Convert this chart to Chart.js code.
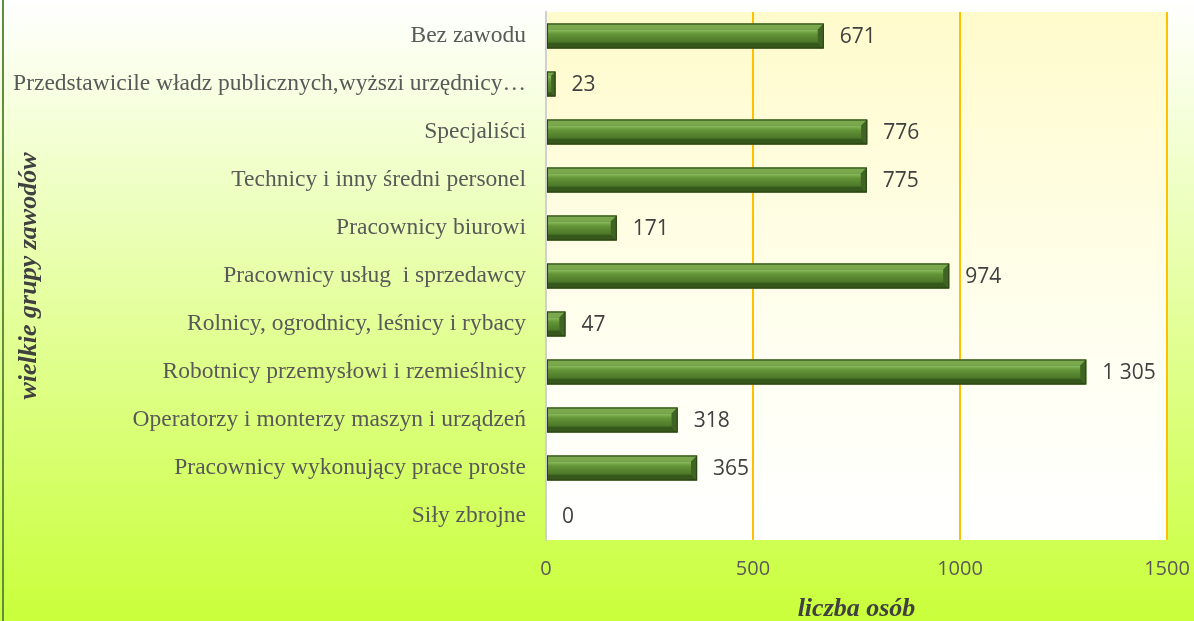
<!DOCTYPE html>
<html>
<head>
<meta charset="utf-8">
<script src="https://cdn.jsdelivr.net/npm/chart.js@4.4.1/dist/chart.umd.min.js"></script>
<style>
  html, body { margin: 0; padding: 0; background: #fff; }
  canvas { display: block; }
</style>
</head>
<body>
<canvas id="chart" width="1194" height="621"></canvas>
<script>
// dane z wykresu
const categories = [
    'Bez zawodu',
    'Przedstawicile władz publicznych,wyższi urzędnicy…',
    'Specjaliści',
    'Technicy i inny średni personel',
    'Pracownicy biurowi',
    'Pracownicy usług  i sprzedawcy',
    'Rolnicy, ogrodnicy, leśnicy i rybacy',
    'Robotnicy przemysłowi i rzemieślnicy',
    'Operatorzy i monterzy maszyn i urządzeń',
    'Pracownicy wykonujący prace proste',
    'Siły zbrojne'
];
const persons = [671, 23, 776, 775, 171, 974, 47, 1305, 318, 365, 0];
const xTicks = [0, 500, 1000, 1500];

const fmt = v => String(v).replace(/\B(?=(\d{3})+(?!\d))/g, ' ');

// tlo calego wykresu i obszaru kreslenia
const backgroundPlugin = {
    id: 'bg',
    beforeDraw: (chart) => {
        const { ctx, width, height, chartArea: a } = chart;
        ctx.save();
        let g = ctx.createLinearGradient(0, 0, 0, height);
        g.addColorStop(0, '#ffffff');
        g.addColorStop(1, '#c9ff3a');
        ctx.fillStyle = g;
        ctx.fillRect(0, 0, width, height);
        ctx.fillStyle = '#5e8f3c';
        ctx.fillRect(2, 0, 2, height);

        g = ctx.createLinearGradient(0, a.top, 0, a.bottom);
        g.addColorStop(0, '#fffbcc');
        g.addColorStop(0.7, '#fffff4');
        g.addColorStop(1, '#ffffff');
        ctx.fillStyle = g;
        ctx.fillRect(a.left, a.top, a.right - a.left, a.bottom - a.top);
        ctx.restore();
    }
};

// efekt fazowania slupkow + etykiety danych
const bevelPlugin = {
    id: 'bevel',
    afterDatasetsDraw: (chart) => {
        const ctx = chart.ctx;
        const meta = chart.getDatasetMeta(0);
        ctx.save();
        meta.data.forEach((bar, i) => {
            const L = Math.min(bar.base, bar.x), R = Math.max(bar.base, bar.x);
            const T = bar.y - bar.height / 2, B = bar.y + bar.height / 2;
            const w = R - L;
            if (w > 1) {
                const b = Math.min(6, w / 2);
                // lico
                const fg = ctx.createLinearGradient(0, T + b, 0, B - b);
                fg.addColorStop(0, '#8cbd5f');
                fg.addColorStop(0.35, '#639437');
                fg.addColorStop(1, '#4b7728');
                ctx.fillStyle = fg;
                ctx.fillRect(L, T + b, w - b, B - T - 2 * b);
                // gorna faza
                ctx.fillStyle = '#79a84d';
                ctx.beginPath();
                ctx.moveTo(L, T); ctx.lineTo(R, T); ctx.lineTo(R - b, T + b); ctx.lineTo(L, T + b);
                ctx.closePath(); ctx.fill();
                // dolna faza
                ctx.fillStyle = '#37581d';
                ctx.beginPath();
                ctx.moveTo(L, B); ctx.lineTo(R, B); ctx.lineTo(R - b, B - b); ctx.lineTo(L, B - b);
                ctx.closePath(); ctx.fill();
                // prawa faza
                ctx.fillStyle = '#3f6423';
                ctx.beginPath();
                ctx.moveTo(R, T); ctx.lineTo(R, B); ctx.lineTo(R - b, B - b); ctx.lineTo(R - b, T + b);
                ctx.closePath(); ctx.fill();
                ctx.strokeStyle = '#2a4214';
                ctx.lineWidth = 1;
                ctx.strokeRect(L + 0.5, T + 0.5, w - 1, B - T - 1);
            }
            ctx.fillStyle = '#404040';
            ctx.font = '21px "Open Sans"';
            ctx.textAlign = 'left';
            ctx.textBaseline = 'middle';
            ctx.fillText(fmt(persons[i]), R + 16, bar.y + 1);
        });
        ctx.restore();
    }
};

new Chart(document.getElementById('chart'), {
    type: 'bar',
    data: {
        labels: categories,
        datasets: [{
            data: persons,
            backgroundColor: '#55842f',
            borderWidth: 0,
            categoryPercentage: 1,
            barPercentage: 0.52
        }]
    },
    options: {
        indexAxis: 'y',
        responsive: false,
        animation: false,
        devicePixelRatio: 1,
        layout: { padding: { left: 5, right: 27, top: 12, bottom: 0 } },
        plugins: { legend: { display: false }, tooltip: { enabled: false } },
        scales: {
            x: {
                min: 0, max: 1500,
                afterBuildTicks: s => { s.ticks = xTicks.map(v => ({ value: v })); },
                afterFit: s => { s.height = 81; s.paddingLeft = 0; s.paddingRight = 0; },
                grid: {
                    color: c => c.tick && c.tick.value === 0 ? 'rgba(0,0,0,0)' : '#ffc000',
                    lineWidth: 2,
                    drawTicks: false
                },
                border: { display: false },
                ticks: {
                    color: '#595959',
                    font: { family: '"Open Sans"', size: 20 },
                    padding: 17,
                    callback: v => String(v)
                },
                title: {
                    display: true,
                    text: 'liczba osób',
                    color: '#404040',
                    font: { family: '"Liberation Serif"', size: 26, weight: 'bold', style: 'italic', lineHeight: 1 },
                    padding: { top: 0, bottom: -1 }
                }
            },
            y: {
                afterFit: s => { s.width = 541; s.paddingTop = 0; s.paddingBottom = 0; },
                grid: { display: false, drawTicks: false },
                border: { display: true, color: '#d0d0d0', width: 2 },
                ticks: { color: '#595959', font: { family: '"Liberation Serif"', size: 23.5 }, padding: 20 },
                title: {
                    display: true,
                    text: 'wielkie grupy zawodów',
                    color: '#404040',
                    font: { family: '"Liberation Serif"', size: 26, weight: 'bold', style: 'italic', lineHeight: 1 },
                    padding: { top: 11, bottom: 0 }
                }
            }
        }
    },
    plugins: [backgroundPlugin, bevelPlugin]
});
</script>
</body>
</html>
